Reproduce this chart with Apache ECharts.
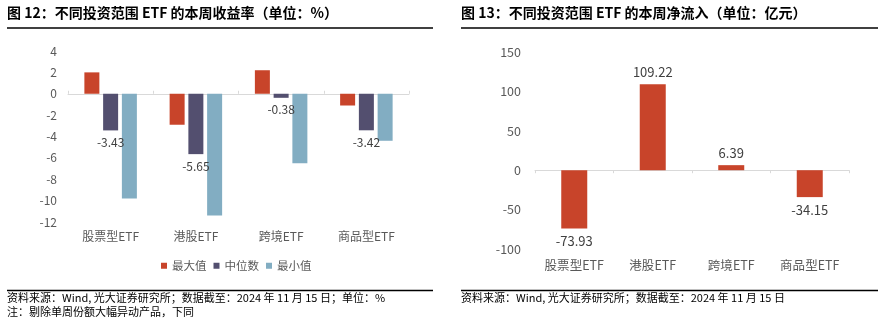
<!DOCTYPE html>
<html><head><meta charset="utf-8">
<script src="https://cdn.jsdelivr.net/npm/echarts@6/dist/echarts.min.js"></script>
<style>html,body{margin:0;padding:0;background:#fff}#c{width:886px;height:324px}</style>
</head><body><div id="c"></div>
<script>
// ---- data ----
var categories = ['股票型ETF', '港股ETF', '跨境ETF', '商品型ETF'];
var retMax = [2.0, -2.9, 2.2, -1.1];
var retMedian = [-3.43, -5.65, -0.38, -3.42];
var retMin = [-9.8, -11.4, -6.5, -4.4];
var seriesNames = ['最大值', '中位数', '最小值'];
var netInflow = [-73.93, 109.22, 6.39, -34.15];
var title1 = '图 12：不同投资范围 ETF 的本周收益率（单位：%）';
var title2 = '图 13：不同投资范围 ETF 的本周净流入（单位：亿元）';
var source1 = '资料来源：Wind, 光大证券研究所；数据截至：2024 年 11 月 15 日；单位：%';
var note1 = '注：剔除单周份额大幅异动产品，下同';
var source2 = '资料来源：Wind, 光大证券研究所；数据截至：2024 年 11 月 15 日';

var FONT = '"Noto Sans CJK SC", "Noto Sans", sans-serif';
var RED = '#C8442A', PURPLE = '#534F6F', BLUE = '#82ADC2';
var GRAY = '#595959';

var chart = echarts.init(document.getElementById('c'), null, {renderer: 'canvas'});

function labelOpt(size) {
  return {show: true, position: 'outside', distance: 6, color: '#404040', fontSize: size, fontFamily: FONT,
    formatter: function (p) { return p.value.toFixed(2); }};
}

var option = {
  animation: false,
  textStyle: {fontFamily: FONT},
  legend: {
    left: 156, top: 255, itemWidth: 6, itemHeight: 6, itemGap: 7,
    icon: 'rect',
    textStyle: {color: GRAY, fontSize: 11.5, fontFamily: FONT},
    data: seriesNames
  },
  grid: [
    {left: 68, right: 477, top: 51, bottom: 102},
    {left: 535, right: 37, top: 52, bottom: 75}
  ],
  xAxis: [
    {gridIndex: 0, type: 'category', data: categories, position: 'bottom',
      axisLine: {show: false, onZero: false}, axisTick: {show: false},
      axisLabel: {color: GRAY, fontSize: 12, margin: 8, fontFamily: FONT}},
    {gridIndex: 0, type: 'category', data: categories, position: 'bottom',
      axisLine: {show: true, onZero: true, lineStyle: {color: '#D9D9D9', width: 1}},
      axisTick: {show: true, inside: true, length: 3, lineStyle: {color: '#D9D9D9'}},
      axisLabel: {show: false}},
    {gridIndex: 1, type: 'category', data: categories, position: 'bottom',
      axisLine: {show: false, onZero: false}, axisTick: {show: false},
      axisLabel: {color: GRAY, fontSize: 12.5, margin: 10, fontFamily: FONT}},
    {gridIndex: 1, type: 'category', data: categories, position: 'bottom',
      axisLine: {show: true, onZero: true, lineStyle: {color: '#D9D9D9', width: 1}},
      axisTick: {show: true, length: 3, lineStyle: {color: '#D9D9D9'}},
      axisLabel: {show: false}}
  ],
  yAxis: [
    {gridIndex: 0, type: 'value', min: -12, max: 4, interval: 2,
      axisLine: {show: false}, axisTick: {show: false}, splitLine: {show: false},
      axisLabel: {color: GRAY, fontSize: 12, margin: 11, fontFamily: FONT}},
    {gridIndex: 1, type: 'value', min: -100, max: 150, interval: 50,
      axisLine: {show: false}, axisTick: {show: false}, splitLine: {show: false},
      axisLabel: {color: GRAY, fontSize: 12.5, margin: 14, fontFamily: FONT}}
  ],
  series: [
    {name: seriesNames[0], type: 'bar', xAxisIndex: 0, yAxisIndex: 0, data: retMax,
      barWidth: 15, barGap: '25%', itemStyle: {color: RED}},
    {name: seriesNames[1], type: 'bar', xAxisIndex: 0, yAxisIndex: 0, data: retMedian,
      barWidth: 15, barGap: '25%', itemStyle: {color: PURPLE}, label: labelOpt(12)},
    {name: seriesNames[2], type: 'bar', xAxisIndex: 0, yAxisIndex: 0, data: retMin,
      barWidth: 15, barGap: '25%', itemStyle: {color: BLUE}},
    {name: '净流入', type: 'bar', xAxisIndex: 2, yAxisIndex: 1, data: netInflow,
      barWidth: 26, itemStyle: {color: RED}, label: labelOpt(13)}
  ],
  graphic: [
    {type: 'text', left: 7, top: 6, style: {text: title1, fill: '#000', font: 'bold 14px ' + FONT}},
    {type: 'line', shape: {x1: 7, y1: 28, x2: 433, y2: 28}, style: {stroke: '#000', lineWidth: 1.5}},
    {type: 'line', shape: {x1: 7, y1: 290.5, x2: 433, y2: 290.5}, style: {stroke: '#000', lineWidth: 1.5}},
    {type: 'text', left: 7, top: 292, style: {text: source1, fill: '#000', font: '11px ' + FONT}},
    {type: 'text', left: 7, top: 306, style: {text: note1, fill: '#000', font: '11px ' + FONT}},
    {type: 'text', left: 461, top: 6, style: {text: title2, fill: '#000', font: 'bold 14px ' + FONT}},
    {type: 'line', shape: {x1: 461, y1: 28, x2: 878, y2: 28}, style: {stroke: '#000', lineWidth: 1.5}},
    {type: 'line', shape: {x1: 461, y1: 290.5, x2: 878, y2: 290.5}, style: {stroke: '#000', lineWidth: 1.5}},
    {type: 'text', left: 461, top: 292, style: {text: source2, fill: '#000', font: '11px ' + FONT}}
  ]
};
chart.setOption(option);
</script></body></html>
